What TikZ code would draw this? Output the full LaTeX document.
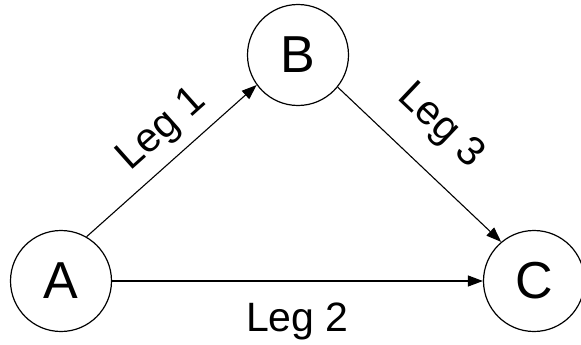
\documentclass[tikz,border=0pt]{standalone}
\usepackage{fontspec}
\setmainfont{Liberation Sans}
\usetikzlibrary{arrows.meta}

\begin{document}
\begin{tikzpicture}[x=1pt,y=-1pt,
		stop/.style={circle,draw,line width=1.2pt,minimum size=101pt,inner sep=0pt,font=\fontsize{52}{60}\selectfont},
		leg/.style={-{Triangle[length=15pt,width=11pt]},line width=1.1pt},
		leglabel/.style={font=\fontsize{41}{48}\selectfont,inner sep=2pt}]
				\useasboundingbox (0,0) rectangle (581,345);
				% the three stops
				\node[stop] (A) at (61,281) {A};
				\node[stop] (B) at (298,55) {B};
				\node[stop] (C) at (534,281) {C};
				% the legs
				\draw[leg] (A.60) -- (B.216) node[leglabel,pos=0.56,sloped,above=8pt] {Leg 1};
				\draw[leg] (A) -- (C) node[leglabel,midway,below=19pt] {Leg 2};
				\draw[leg] (B.-39) -- (C.130) node[leglabel,pos=0.45,sloped,above=21pt] {Leg 3};
			\end{tikzpicture}
\end{document}
